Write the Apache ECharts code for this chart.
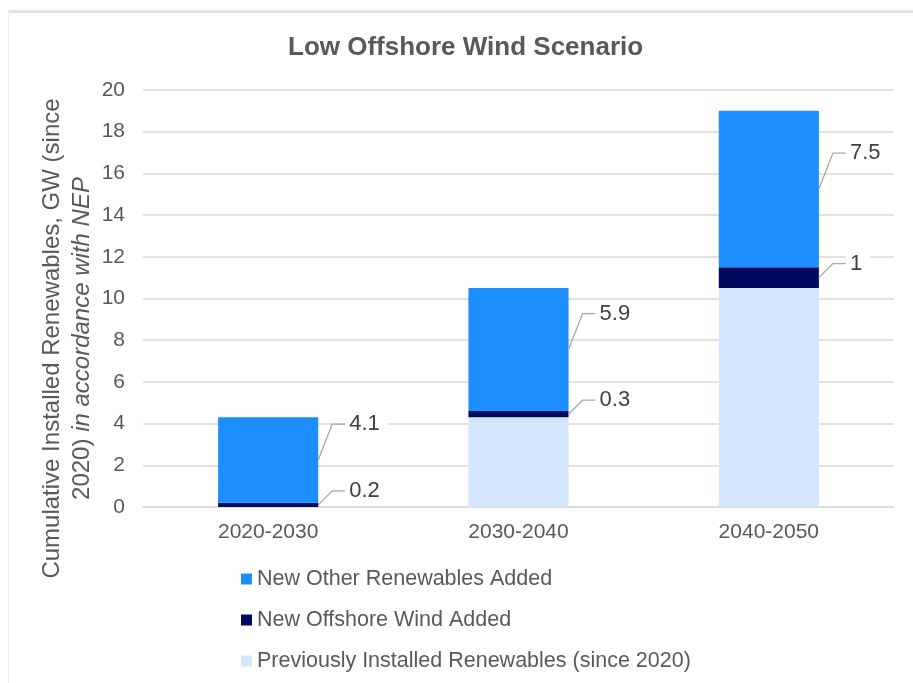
<!DOCTYPE html>
<html>
<head>
<meta charset="utf-8">
<script src="https://cdn.jsdelivr.net/npm/echarts@6/dist/echarts.min.js"></script>
<style>
html,body{margin:0;padding:0;background:#fff;}
#chart{width:913px;height:683px;}
</style>
</head>
<body>
<div id="chart"></div>
<script>
const categories = ['2020-2030', '2030-2040', '2040-2050'];
const previouslyInstalled = [0, 4.3, 10.5];
const offshoreWind = [0.2, 0.3, 1];
const otherRenewables = [4.1, 5.9, 7.5];
const yMin = 0, yMax = 20, yStep = 2;

const seriesNames = {
  other: 'New Other Renewables Added',
  offshore: 'New Offshore Wind Added',
  prev: 'Previously Installed Renewables (since 2020)'
};
const colors = { other: '#1C8EFF', offshore: '#000A5E', prev: '#D3E8FF' };
const FONT = 'Liberation Sans, Arial, sans-serif';

const offshoreLabelData = categories.map((c, i) => [i, previouslyInstalled[i], offshoreWind[i]]);
const otherLabelData = categories.map((c, i) => [i, previouslyInstalled[i] + offshoreWind[i], otherRenewables[i]]);

function makeLabelRenderer(rise) {
  return function (params, api) {
    const idx = api.value(0), base = api.value(1), v = api.value(2);
    const p = api.coord([idx, base + v / 2]);
    const band = api.size([1, 0])[0];
    const x0 = p[0] + band * 0.2;
    const yl = p[1] - rise;
    return {
      type: 'group',
      children: [
        { type: 'polyline', shape: { points: [[x0, p[1]], [x0 + 14, yl], [x0 + 27, yl]] },
          style: { stroke: '#a6a6a6', lineWidth: 1.3, fill: null } },
        { type: 'text', x: x0 + 27, y: yl,
          style: { text: String(v), fill: '#404040', font: '22px ' + FONT,
                   align: 'left', verticalAlign: 'middle',
                   backgroundColor: '#ffffff', padding: [2, 8, 2, 4] } }
      ]
    };
  };
}

const chart = echarts.init(document.getElementById('chart'));
chart.setOption({
  animation: false,
  backgroundColor: '#ffffff',
  title: {
    text: 'Low Offshore Wind Scenario',
    left: 283,
    top: 30,
    textStyle: { fontFamily: FONT, fontSize: 26, fontWeight: 'bold', color: '#595959' }
  },
  graphic: [
    { type: 'line', shape: { x1: 8, y1: 11.5, x2: 913, y2: 11.5 }, style: { stroke: '#e3e3e3', lineWidth: 3 }, silent: true },
    { type: 'line', shape: { x1: 8.5, y1: 11, x2: 8.5, y2: 683 }, style: { stroke: '#f0f0f0', lineWidth: 1 }, silent: true }
  ],
  legend: {
    orient: 'vertical',
    left: 236,
    top: 563,
    itemWidth: 11,
    itemHeight: 11,
    itemGap: 19,
    icon: 'rect',
    data: [seriesNames.other, seriesNames.offshore, seriesNames.prev],
    textStyle: { fontFamily: FONT, fontSize: 21.5, color: '#595959' }
  },
  grid: { left: 143, right: 19, top: 90, bottom: 176, containLabel: false },
  xAxis: {
    type: 'category',
    data: categories,
    axisTick: { show: false },
    axisLine: { lineStyle: { color: '#d9d9d9', width: 1.5 } },
    axisLabel: { fontFamily: FONT, fontSize: 21, color: '#595959', margin: 15 }
  },
  yAxis: {
    type: 'value',
    min: yMin, max: yMax, interval: yStep,
    axisLine: { show: false },
    axisTick: { show: false },
    splitLine: { lineStyle: { color: '#d9d9d9', width: 1.5 } },
    axisLabel: { fontFamily: FONT, fontSize: 21, color: '#595959', margin: 18 },
    name: '{a|Cumulative Installed Renewables, GW (since}\n{a|2020) }{i|in accordance with NEP}',
    nameLocation: 'middle',
    nameRotate: 90,
    nameGap: 46,
    nameMoveOverlap: false,
    nameTextStyle: {
      padding: [0, 80, 0, 0],
      lineHeight: 30,
      rich: {
        a: { fontFamily: FONT, fontSize: 24, color: '#595959', lineHeight: 30 },
        i: { fontFamily: FONT, fontSize: 24, color: '#595959', fontStyle: 'italic', lineHeight: 30 }
      }
    }
  },
  series: [
    { name: seriesNames.prev, type: 'bar', stack: 'total', barWidth: '40%',
      itemStyle: { color: colors.prev }, data: previouslyInstalled },
    { name: seriesNames.offshore, type: 'bar', stack: 'total', barWidth: '40%',
      itemStyle: { color: colors.offshore }, data: offshoreWind },
    { name: seriesNames.other, type: 'bar', stack: 'total', barWidth: '40%',
      itemStyle: { color: colors.other }, data: otherRenewables },
    { type: 'custom', coordinateSystem: 'cartesian2d', renderItem: makeLabelRenderer(14),
      encode: { x: 0, y: 1 }, data: offshoreLabelData, silent: true, z: 5 },
    { type: 'custom', coordinateSystem: 'cartesian2d', renderItem: makeLabelRenderer(36),
      encode: { x: 0, y: 1 }, data: otherLabelData, silent: true, z: 5 }
  ]
});
</script>
</body>
</html>
